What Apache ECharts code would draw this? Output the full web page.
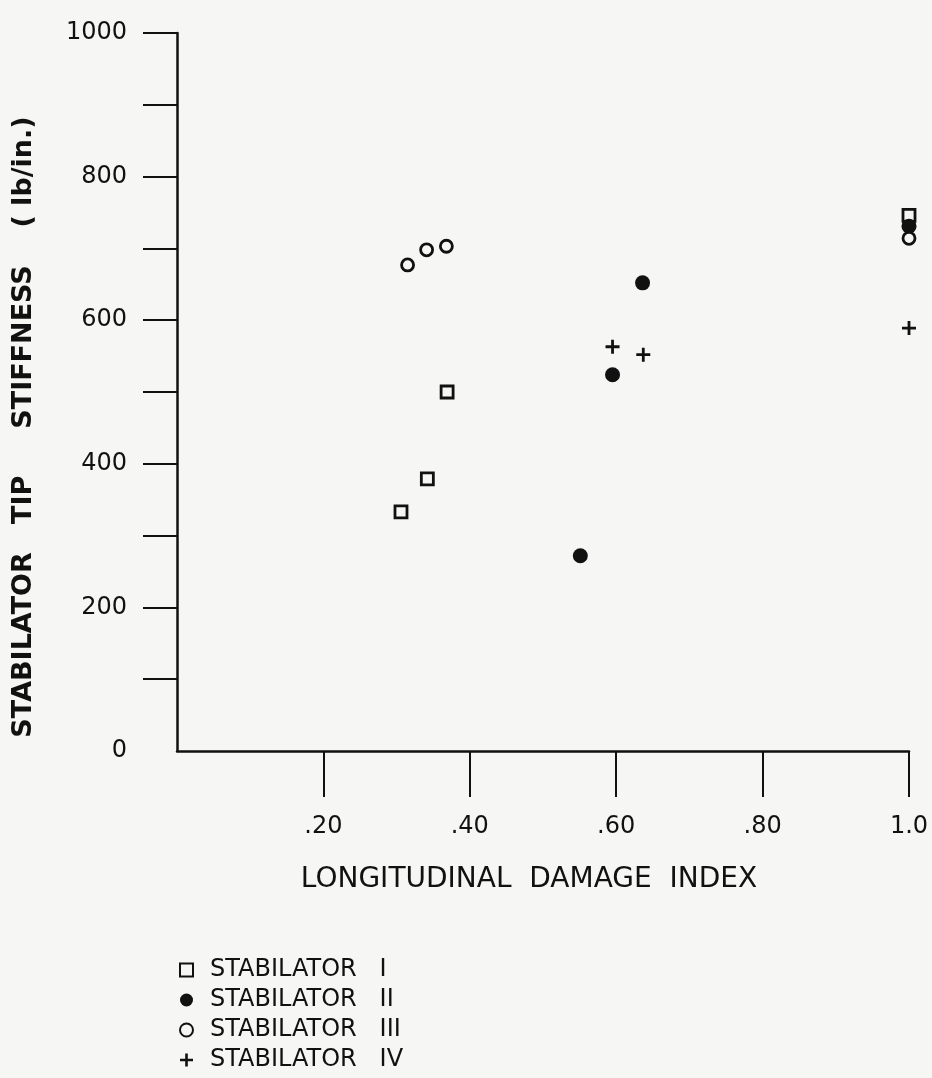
<!DOCTYPE html>
<html>
<head>
<meta charset="utf-8">
<script src="https://cdn.jsdelivr.net/npm/echarts@6/dist/echarts.min.js"></script>
<style>
  html, body { margin: 0; padding: 0; background: #f6f6f4; }
  #chart { width: 932px; height: 1078px; }
</style>
</head>
<body>
<div id="chart"></div>
<script>
// longitudinal damage index vs tip stiffness (lb/in.)
var stab1 = [[0.306, 333], [0.342, 379], [0.369, 500], [1.0, 746]];
var stab2 = [[0.551, 272], [0.595, 524], [0.636, 652], [1.0, 731]];
var stab3 = [[0.315, 677], [0.341, 698], [0.368, 703], [1.0, 714]];
var stab4 = [[0.595, 563], [0.637, 552], [1.0, 589]];

var seriesNames = ["STABILATOR   I", "STABILATOR   II", "STABILATOR   III", "STABILATOR   IV"];
var xTickValues = [0.2, 0.4, 0.6, 0.8, 1.0];
var xTickLabels = [".20", ".40", ".60", ".80", "1.0"];
var yLabelValues = [0, 200, 400, 600, 800, 1000];
var yTickValues = [100, 200, 300, 400, 500, 600, 700, 800, 900, 1000];

var ink = "#111";
var paper = "#f6f6f4";
var font = "DejaVu Sans";
var plus = "path://M4,0h2v4h4v2h-4v4h-2v-4h-4v-2h4z";

var myChart = echarts.init(document.getElementById("chart"));
var option = {
  backgroundColor: paper,
  animation: false,
  grid: { left: 177, right: 23, top: 33, bottom: 327 },
  xAxis: {
    type: "value",
    min: 0,
    max: 1.0,
    interval: 0.2,
    splitLine: { show: false },
    axisLine: { lineStyle: { color: ink, width: 2.5 } },
    axisTick: { customValues: xTickValues, length: 46, lineStyle: { color: ink, width: 2 } },
    axisLabel: {
      customValues: xTickValues,
      margin: 64,
      color: ink,
      fontFamily: font,
      fontSize: 24,
      formatter: function (v) {
        var i = xTickValues.indexOf(Math.round(v * 10) / 10);
        return i >= 0 ? xTickLabels[i] : "";
      }
    }
  },
  yAxis: {
    type: "value",
    min: 0,
    max: 1000,
    interval: 100,
    splitLine: { show: false },
    axisLine: { lineStyle: { color: ink, width: 2.5 } },
    axisTick: { customValues: yTickValues, length: 34, lineStyle: { color: ink, width: 2 } },
    axisLabel: {
      customValues: yLabelValues,
      margin: 50,
      color: ink,
      fontFamily: font,
      fontSize: 24,
      formatter: function (v) { return String(v); }
    }
  },
  legend: {
    orient: "vertical",
    left: 174,
    top: 953,
    itemGap: 6,
    itemWidth: 13,
    itemHeight: 13,
    data: seriesNames,
    textStyle: { color: ink, fontFamily: font, fontSize: 24, lineHeight: 24, padding: [0, 0, 0, 12] }
  },
  graphic: [
    {
      type: "text",
      x: 24,
      y: 427,
      rotation: Math.PI / 2,
      style: {
        text: "STABILATOR   TIP     STIFFNESS    ( lb/in.)",
        fill: ink,
        font: "bold 27px DejaVu Sans",
        textAlign: "center",
        textVerticalAlign: "middle"
      }
    },
    {
      type: "text",
      x: 529,
      y: 880,
      style: {
        text: "LONGITUDINAL  DAMAGE  INDEX",
        fill: ink,
        font: "28px DejaVu Sans",
        textAlign: "center",
        textVerticalAlign: "middle"
      }
    }
  ],
  series: [
    {
      name: seriesNames[0],
      type: "scatter",
      data: stab1,
      symbol: "rect",
      symbolSize: 12,
      itemStyle: { color: paper, borderColor: ink, borderWidth: 2.8, opacity: 1 }
    },
    {
      name: seriesNames[1],
      type: "scatter",
      data: stab2,
      symbol: "circle",
      symbolSize: 15,
      itemStyle: { color: ink, opacity: 1 }
    },
    {
      name: seriesNames[2],
      type: "scatter",
      data: stab3,
      symbol: "circle",
      symbolSize: 12,
      itemStyle: { color: paper, borderColor: ink, borderWidth: 2.8, opacity: 1 }
    },
    {
      name: seriesNames[3],
      type: "scatter",
      data: stab4,
      symbol: plus,
      symbolSize: 14,
      itemStyle: { color: ink, opacity: 1 }
    }
  ]
};
myChart.setOption(option);
</script>
</body>
</html>
